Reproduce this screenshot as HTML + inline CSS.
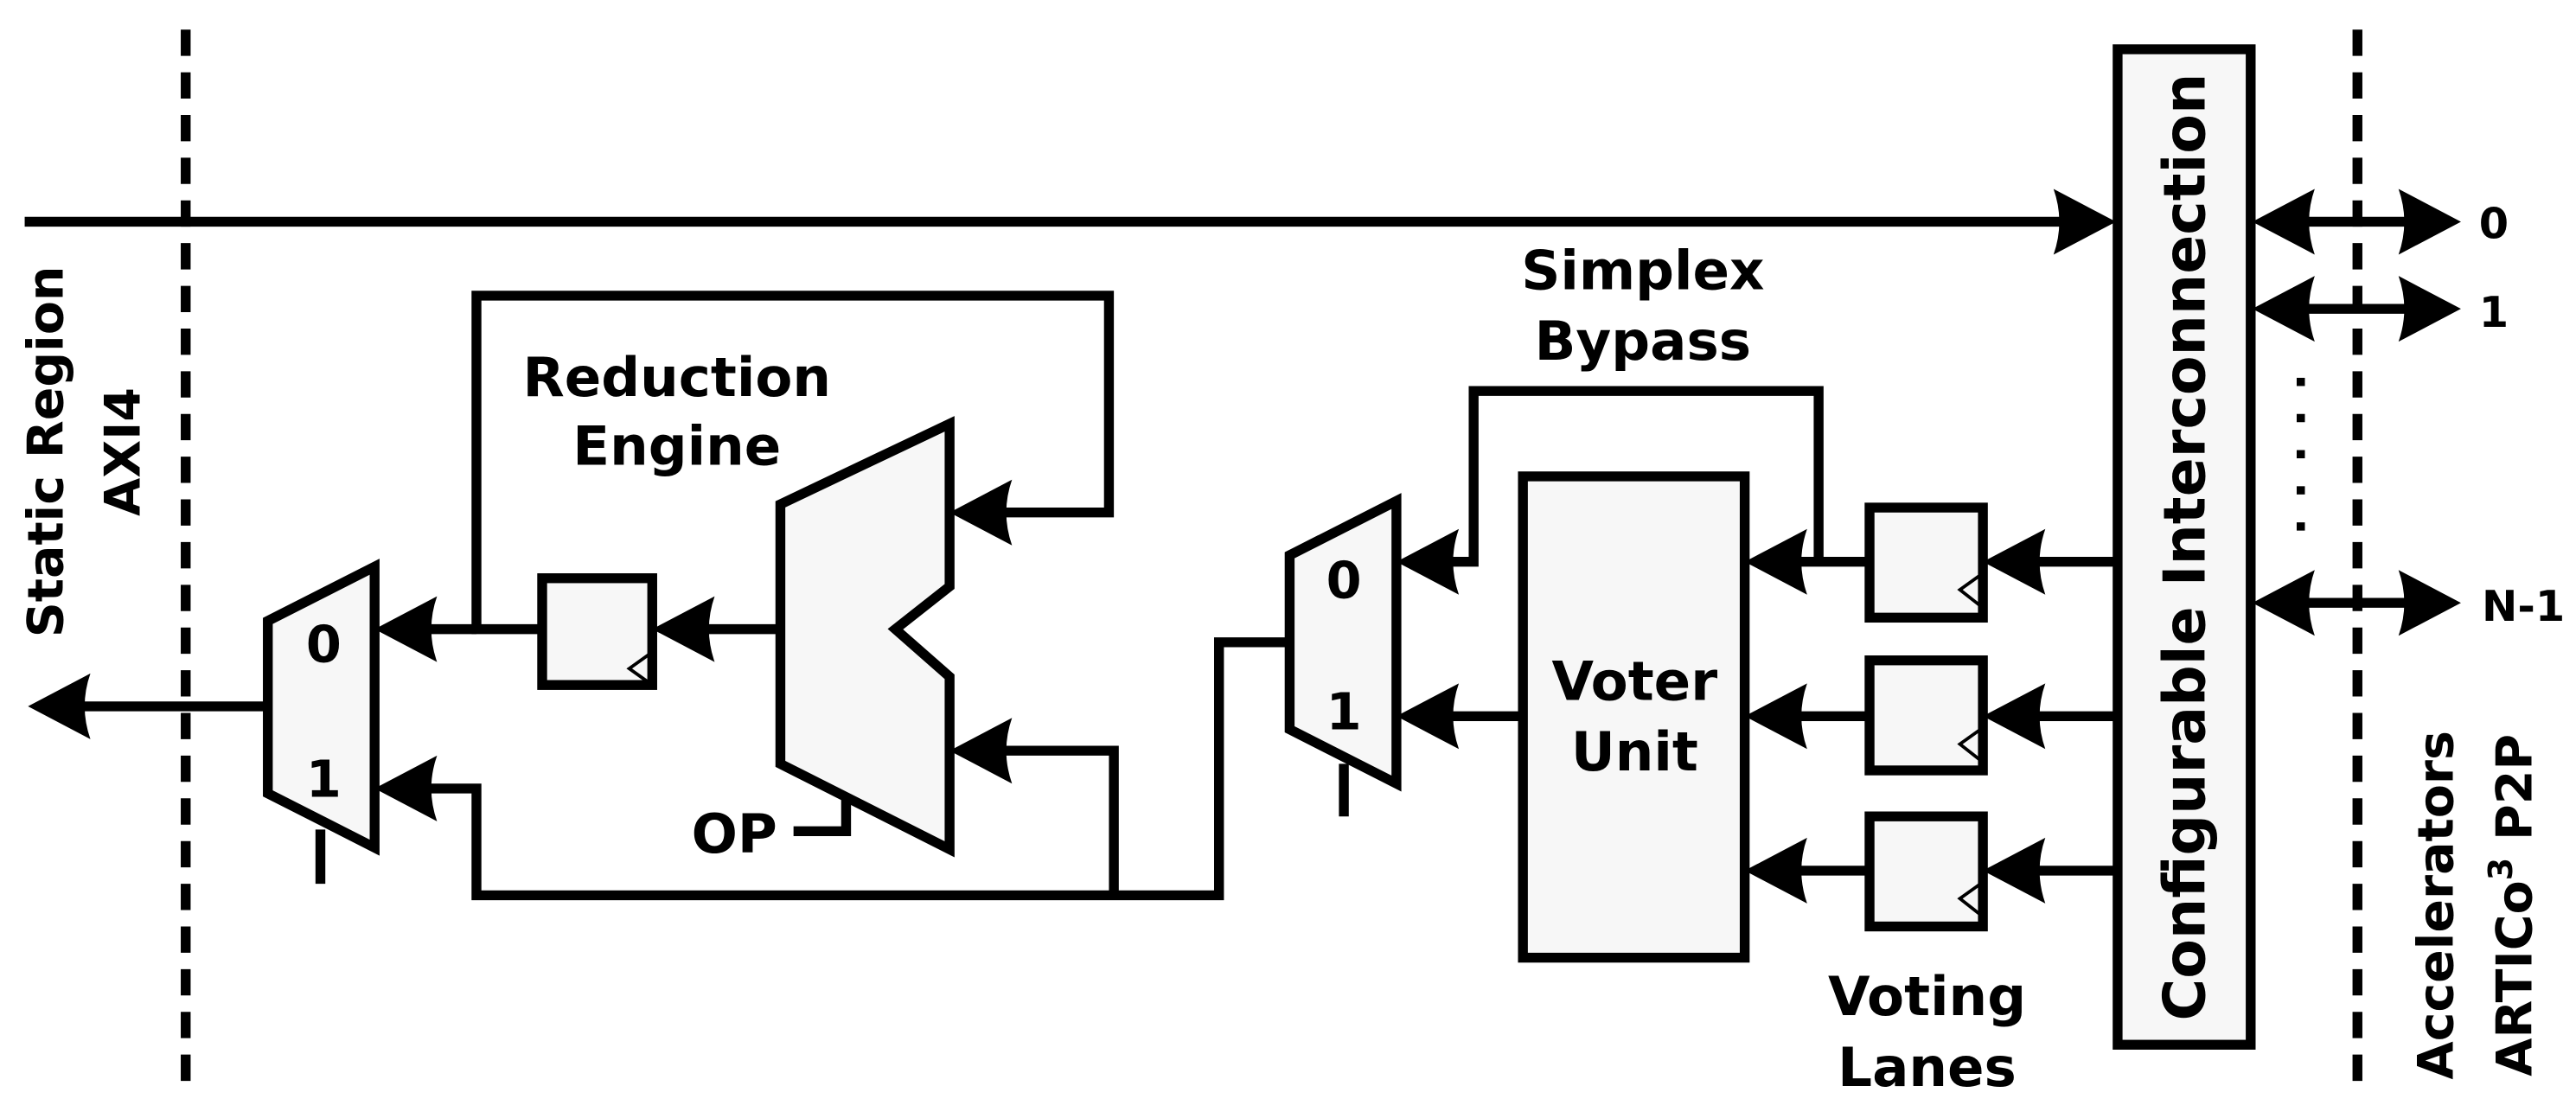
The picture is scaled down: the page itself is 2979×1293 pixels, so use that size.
<!DOCTYPE html>
<html><head><meta charset="utf-8"><style>
html,body{margin:0;padding:0;background:#fff;}
svg{display:block;}
text{font-family:"DejaVu Sans","Liberation Sans",sans-serif;font-weight:bold;fill:#000;}
</style></head><body>
<svg width="2979" height="1293" viewBox="0 0 1568 680.6" xmlns="http://www.w3.org/2000/svg">
<defs>
<g id="ah"><path d="M0,0 L-38,-20 Q-31,0 -38,20 Z" fill="#000"/></g>
</defs>
<g stroke="#000" stroke-width="6" fill="none">
<line x1="113" y1="18" x2="113" y2="664" stroke-dasharray="16,10"/>
<line x1="1435" y1="18" x2="1435" y2="664" stroke-dasharray="16,10"/>
<line x1="15" y1="135" x2="1260" y2="135"/>
<line x1="163" y1="430" x2="45" y2="430"/>
<line x1="290" y1="383" x2="250" y2="383"/>
<polyline points="330,383 290,383 290,180 675,180 675,312 600,312"/>
<line x1="473" y1="383" x2="420" y2="383"/>
<polyline points="255,480 290,480 290,545 742,545 742,391 785,391"/>
<polyline points="678,545 678,457 600,457"/>
<polyline points="483,506 515,506 515,482"/>
<line x1="195" y1="505" x2="195" y2="538"/>
<line x1="818" y1="465" x2="818" y2="497"/>
<polyline points="1107,342 1107,238 897,238 897,342 872,342"/>
<line x1="927" y1="436" x2="872" y2="436"/>
<line x1="1138" y1="342" x2="1085" y2="342"/>
<line x1="1138" y1="436" x2="1085" y2="436"/>
<line x1="1138" y1="530" x2="1085" y2="530"/>
<line x1="1287" y1="342" x2="1230" y2="342"/>
<line x1="1287" y1="436" x2="1230" y2="436"/>
<line x1="1287" y1="530" x2="1230" y2="530"/>
<line x1="1395" y1="135" x2="1475" y2="135"/>
<line x1="1395" y1="188" x2="1475" y2="188"/>
<line x1="1395" y1="367" x2="1475" y2="367"/>
</g>
<use href="#ah" transform="translate(1288,135)"/>
<use href="#ah" transform="translate(17,430) rotate(180)"/>
<use href="#ah" transform="translate(228,383) rotate(180)"/>
<use href="#ah" transform="translate(228,480) rotate(180)"/>
<use href="#ah" transform="translate(397,383) rotate(180)"/>
<use href="#ah" transform="translate(578,312) rotate(180)"/>
<use href="#ah" transform="translate(578,457) rotate(180)"/>
<use href="#ah" transform="translate(850,342) rotate(180)"/>
<use href="#ah" transform="translate(850,436) rotate(180)"/>
<use href="#ah" transform="translate(1062,342) rotate(180)"/>
<use href="#ah" transform="translate(1062,436) rotate(180)"/>
<use href="#ah" transform="translate(1062,530) rotate(180)"/>
<use href="#ah" transform="translate(1207,342) rotate(180)"/>
<use href="#ah" transform="translate(1207,436) rotate(180)"/>
<use href="#ah" transform="translate(1207,530) rotate(180)"/>
<use href="#ah" transform="translate(1371,135) rotate(180)"/>
<use href="#ah" transform="translate(1371,188) rotate(180)"/>
<use href="#ah" transform="translate(1371,367) rotate(180)"/>
<use href="#ah" transform="translate(1498,135)"/>
<use href="#ah" transform="translate(1498,188)"/>
<use href="#ah" transform="translate(1498,367)"/>
<g stroke="#000" stroke-width="6" fill="#f7f7f7">
<rect x="1289" y="30" width="81" height="606"/>
<polygon points="163,378 228,345 228,516 163,483"/>
<polygon points="785,338 850,305 850,477 785,444"/>
<polygon points="475,307 578,258 578,357 545,383 578,412 578,517 475,465"/>
<rect x="330" y="352" width="67" height="65"/>
<rect x="927" y="290" width="135" height="293"/>
<rect x="1138" y="309" width="69" height="67"/>
<rect x="1138" y="402" width="69" height="67"/>
<rect x="1138" y="497" width="69" height="67"/>
</g>
<g stroke="#000" stroke-width="2" fill="none">
<polyline points="397,397 383,407 397,417"/>
<polyline points="1207,349 1193,359 1207,370"/>
<polyline points="1207,443 1193,453 1207,464"/>
<polyline points="1207,537 1193,547 1207,558"/>
</g>
<g fill="#000">
<rect x="1398" y="230" width="5" height="5"/><rect x="1398" y="252" width="5" height="5"/>
<rect x="1398" y="274" width="5" height="5"/><rect x="1398" y="296" width="5" height="5"/>
<rect x="1398" y="318" width="5" height="5"/>
</g>
<g font-size="33" text-anchor="middle">
<text x="197" y="403" font-size="31">0</text>
<text x="197" y="485" font-size="31">1</text>
<text x="818" y="364" font-size="31">0</text>
<text x="818" y="444" font-size="31">1</text>
<text x="412" y="241">Reduction</text>
<text x="412" y="283">Engine</text>
<text x="1000" y="176">Simplex</text>
<text x="1000" y="219">Bypass</text>
<text x="995" y="426">Voter</text>
<text x="995" y="469">Unit</text>
<text x="1173" y="618">Voting</text>
<text x="1173" y="661">Lanes</text>
<text x="447" y="519">OP</text>
<text x="1518" y="145" font-size="26">0</text>
<text x="1518" y="199" font-size="26">1</text>
<text x="1536" y="378" font-size="26">N-1</text>
<text transform="translate(1342,333) rotate(-90)" font-size="35">Configurable Interconnection</text>
<text transform="translate(38,275) rotate(-90)" font-size="30">Static Region</text>
<text transform="translate(85,275) rotate(-90)" font-size="30">AXI4</text>
<text transform="translate(1493,551) rotate(-90)" font-size="30">Accelerators</text>
<text transform="translate(1541,551) rotate(-90)" font-size="30">ARTICo<tspan font-size="20" dy="-12">3</tspan><tspan dy="12"> P2P</tspan></text>
</g>
</svg>
</body></html>
